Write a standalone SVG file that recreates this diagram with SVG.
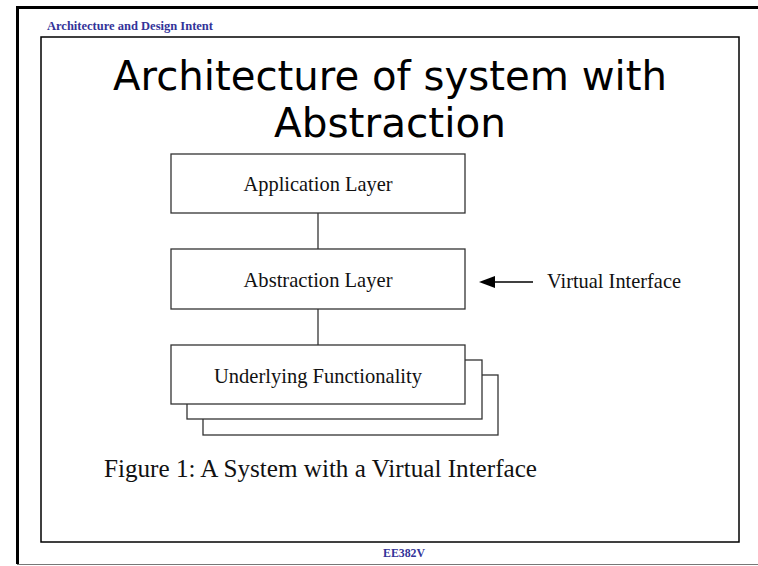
<svg xmlns="http://www.w3.org/2000/svg" width="758" height="566" viewBox="0 0 758 566">
  <style>
    .frame { fill: none; stroke: #000; }
    .box { fill: #fff; stroke: #333; stroke-width: 1.3; }
    .wire { fill: none; stroke: #333; stroke-width: 1.3; }
    .label { font-family: "Liberation Serif", "Times New Roman", serif; font-size: 21px; fill: #111; text-anchor: middle; }
    .side { font-family: "Liberation Serif", "Times New Roman", serif; font-size: 21px; fill: #111; }
    .hdr { font-family: "Liberation Serif", "Times New Roman", serif; font-weight: bold; font-size: 12px; fill: #333399; }
    .title { font-family: "DejaVu Sans", "Noto Sans", sans-serif; font-size: 40px; fill: #000; text-anchor: middle; }
    .caption { font-family: "Liberation Serif", "Times New Roman", serif; font-size: 25px; fill: #111; }
  </style>
  <rect width="758" height="566" fill="#fff"/>

  <!-- page border -->
  <path class="frame" d="M758,7.5 H17.5 V564" stroke-width="3"/>
  <path d="M17,564.5 H758" stroke="#777" stroke-width="1"/>
  <rect class="frame" x="41" y="37" width="698" height="505" stroke="#222" stroke-width="1.5"/>

  <!-- header and footer -->
  <text class="hdr" x="47" y="30" textLength="166" lengthAdjust="spacingAndGlyphs">Architecture and Design Intent</text>
  <text class="hdr" x="404" y="557" text-anchor="middle" textLength="42" lengthAdjust="spacingAndGlyphs">EE382V</text>

  <!-- slide title -->
  <text class="title" x="390" y="90" textLength="554" lengthAdjust="spacingAndGlyphs">Architecture of system with</text>
  <text class="title" x="390" y="137" textLength="232" lengthAdjust="spacingAndGlyphs">Abstraction</text>

  <!-- connectors -->
  <g id="connectors">
    <line class="wire" x1="318" y1="213" x2="318" y2="249"/>
    <line class="wire" x1="318" y1="309" x2="318" y2="345"/>
    <line x1="533" y1="282" x2="495" y2="282" stroke="#000" stroke-width="1.3"/>
    <path d="M495,276 L479,282 L495,288 Z" fill="#000"/>
  </g>

  <g id="application-layer">
    <rect class="box" x="171" y="154" width="294" height="59"/>
    <text class="label" x="318" y="191" textLength="149" lengthAdjust="spacingAndGlyphs">Application Layer</text>
  </g>

  <g id="abstraction-layer">
    <rect class="box" x="171" y="249" width="294" height="60"/>
    <text class="label" x="318" y="287" textLength="149" lengthAdjust="spacingAndGlyphs">Abstraction Layer</text>
  </g>

  <g id="underlying-functionality">
    <rect class="box" x="203" y="375" width="295" height="60"/>
    <rect class="box" x="187" y="360" width="295" height="59"/>
    <rect class="box" x="171" y="345" width="294" height="59"/>
    <text class="label" x="318" y="383" textLength="208" lengthAdjust="spacingAndGlyphs">Underlying Functionality</text>
  </g>

  <g id="virtual-interface">
    <text class="side" x="547" y="288" textLength="134" lengthAdjust="spacingAndGlyphs">Virtual Interface</text>
  </g>

  <!-- figure caption -->
  <text class="caption" x="104" y="477" textLength="433" lengthAdjust="spacingAndGlyphs">Figure 1: A System with a Virtual Interface</text>
</svg>
